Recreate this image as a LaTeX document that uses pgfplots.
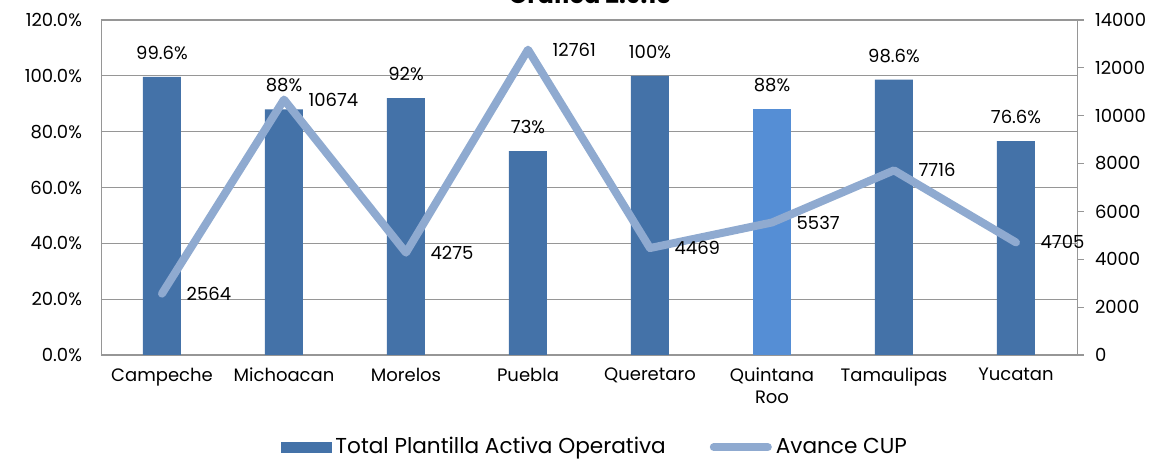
\documentclass[border=0pt]{standalone}
\usepackage{fontspec}
\setmainfont{Poppins}
\usepackage{pgfplots}
\pgfplotsset{compat=1.18}
\definecolor{barblue}{RGB}{68,114,168}
\definecolor{barlight}{RGB}{85,142,213}
\definecolor{cupline}{RGB}{143,170,208}
\definecolor{gridgray}{RGB}{150,150,150}
\newcommand\ff{\fontsize{9}{11}\selectfont}
\newcommand\lf{\fontsize{10.8}{13}\selectfont}
\begin{document}
\begin{tikzpicture}
\path[use as bounding box] (0,0) rectangle (583pt,229.5pt);
\node[anchor=base,font=\fontsize{12}{14}\selectfont\bfseries] at (295pt,227.5pt) {Gráfica 2.9.13};
% left axis: bars
\begin{axis}[
scale only axis,
width=488pt, height=167.5pt,
at={(50.5pt,52pt)}, anchor=south west,
xmin=-0.5, xmax=7.5,
ymin=0, ymax=120,
ytick={0,20,...,120},
axis x line*=bottom,
axis y line*=left,
axis line style={-,gridgray},
ymajorgrids,
grid style={gridgray,line width=0.6pt},
major tick length=0pt,
xtick={0,...,7},
xticklabels={Campeche,Michoacan,Morelos,Puebla,Queretaro,{Quintana\\Roo},Tamaulipas,Yucatan},
x tick label style={font=\ff,align=center,anchor=north,yshift=-3pt},
yticklabel={\pgfmathprintnumber[fixed,precision=1,zerofill]{\tick}\%},
y tick label style={font=\ff,xshift=-6pt},
/pgf/number format/assume math mode=true,
nodes near coords style={font=\ff,black,yshift=5pt},
]
\addplot[ybar,bar width=19pt,bar shift=0pt,fill=barblue,draw=none,
  nodes near coords,point meta=explicit symbolic]
  coordinates {(0,99.6)[99.6\%] (1,88)[88\%] (2,92)[92\%] (3,73)[73\%] (4,100)[100\%] (6,98.6)[98.6\%] (7,76.6)[76.6\%]};
\addplot[ybar,bar width=19pt,bar shift=0pt,fill=barlight,draw=none,
  nodes near coords,point meta=explicit symbolic]
  coordinates {(5,88)[88\%]};
\end{axis}
% right axis: line
\begin{axis}[
scale only axis,
width=488pt, height=167.5pt,
at={(50.5pt,52pt)}, anchor=south west,
xmin=-0.5, xmax=7.5,
ymin=0, ymax=14000,
ytick={0,2000,...,14000},
axis x line=none,
axis y line*=right,
axis line style={-,gridgray},
tick align=outside,
major tick length=3.5pt,
tick style={gridgray,line width=0.6pt},
scaled y ticks=false,
/pgf/number format/set thousands separator={},
/pgf/number format/assume math mode=true,
y tick label style={font=\ff,xshift=2pt},
legend columns=2,
legend style={draw=none,font=\lf,at={(0.507,-0.275)},anchor=center,
  inner sep=0pt,
  /tikz/every odd column/.append style={column sep=0pt},
  /tikz/every even column/.append style={column sep=20pt}},
]
\addlegendimage{legend image code/.code={\fill[barblue] (0pt,-2.5pt) rectangle (25pt,2.5pt);}}
\addlegendentry{Total Plantilla Activa Operativa}
\addplot[color=cupline,line width=4pt,line join=round,line cap=round,
  nodes near coords,point meta=explicit symbolic,
  nodes near coords style={font=\ff,black,anchor=west,xshift=7pt},
  legend image code/.code={\draw[cupline,line width=4pt,line cap=round] (0pt,0pt) -- (27pt,0pt);}]
  coordinates {(0,2564)[2564] (1,10674)[10674] (2,4275)[4275] (3,12761)[12761] (4,4469)[4469] (5,5537)[5537] (6,7716)[7716] (7,4705)[4705]};
\addlegendentry{Avance CUP}
\end{axis}
\end{tikzpicture}
\end{document}
